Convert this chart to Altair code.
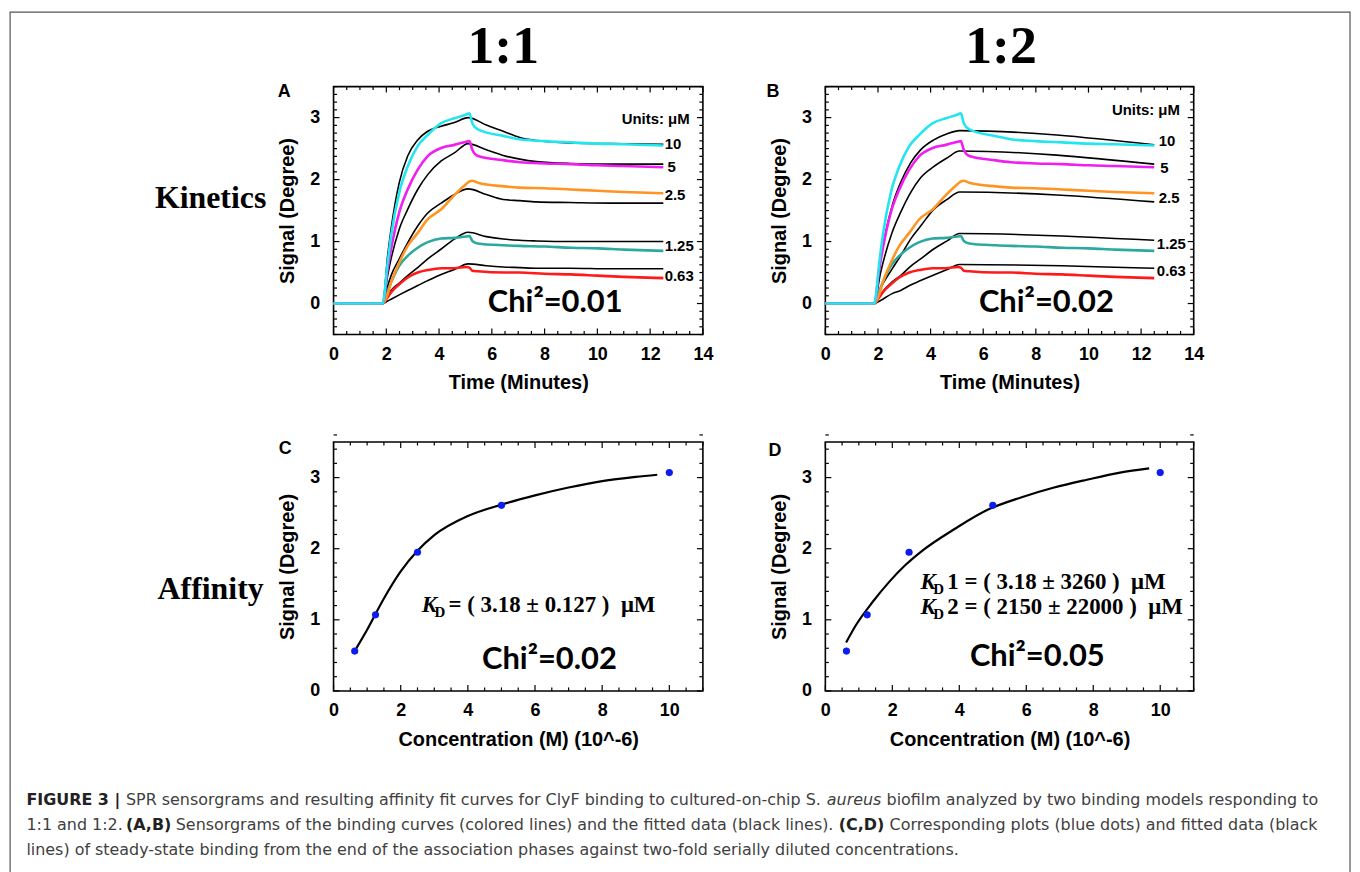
import altair as alt
import pandas as pd

SANS = "Liberation Sans"
SERIF = "Liberation Serif"
CHI_FONT = "Lato"
CAP_FONT = "DejaVu Sans"

# ---------------- data: sensorgrams (panels A and B) ----------------
SERIES = ["10", "5", "2.5", "1.25", "0.63"]

T_EXP = [0.0, 1.0, 1.86, 2.05, 2.18, 2.49, 2.81, 3.19, 3.57, 4.08, 4.58, 5.03, 5.15, 5.26, 5.47, 6.48, 7.05, 8.0, 9.0, 10.0, 11.0, 12.5]
EXP_10 = [0, 0, 0, 0.66, 1.09, 1.79, 2.21, 2.54, 2.72, 2.91, 2.99, 3.05, 3.07, 2.91, 2.81, 2.70, 2.65, 2.62, 2.60, 2.58, 2.57, 2.55]
EXP_5 = [0, 0, 0, 0.56, 0.88, 1.47, 1.84, 2.16, 2.38, 2.51, 2.56, 2.61, 2.62, 2.48, 2.38, 2.31, 2.28, 2.26, 2.25, 2.23, 2.22, 2.20]
EXP_2_5 = [0, 0, 0, 0.15, 0.34, 0.66, 0.93, 1.14, 1.36, 1.52, 1.75, 1.93, 1.97, 1.98, 1.95, 1.89, 1.87, 1.86, 1.84, 1.82, 1.80, 1.78]
EXP_1_25 = [0, 0, 0, 0.20, 0.34, 0.61, 0.77, 0.90, 0.99, 1.05, 1.06, 1.08, 1.09, 1.01, 0.97, 0.94, 0.93, 0.92, 0.90, 0.89, 0.87, 0.85]
EXP_0_63 = [0, 0, 0, 0.10, 0.18, 0.31, 0.42, 0.50, 0.54, 0.57, 0.57, 0.59, 0.58, 0.53, 0.52, 0.50, 0.50, 0.48, 0.47, 0.45, 0.43, 0.41]

T_FIT_A = [0.0, 1.86, 2.05, 2.18, 2.49, 2.81, 3.19, 3.57, 4.08, 4.58, 5.10, 5.79, 6.43, 7.06, 7.69, 8.95, 10.5, 12.5]
FIT_A_10 = [0, 0, 0.77, 1.20, 1.95, 2.38, 2.64, 2.78, 2.86, 2.92, 3.00, 2.88, 2.78, 2.68, 2.63, 2.59, 2.58, 2.57]
FIT_A_5 = [0, 0, 0.45, 0.72, 1.20, 1.52, 1.84, 2.08, 2.30, 2.43, 2.58, 2.48, 2.39, 2.33, 2.29, 2.26, 2.25, 2.25]
FIT_A_2_5 = [0, 0, 0.28, 0.45, 0.72, 0.98, 1.25, 1.46, 1.62, 1.76, 1.85, 1.76, 1.68, 1.66, 1.64, 1.63, 1.62, 1.62]
FIT_A_1_25 = [0, 0, 0.13, 0.21, 0.33, 0.45, 0.58, 0.72, 0.88, 1.04, 1.15, 1.08, 1.04, 1.02, 1.01, 1.00, 1.00, 1.00]
FIT_A_0_63 = [0, 0, 0.04, 0.07, 0.14, 0.21, 0.29, 0.37, 0.47, 0.55, 0.64, 0.61, 0.59, 0.58, 0.57, 0.57, 0.56, 0.56]

T_FIT_B = [0.0, 1.85, 2.10, 2.54, 2.86, 3.24, 3.62, 4.12, 4.63, 5.10, 12.5]
FIT_B_10 = [0, 0, 0.72, 1.58, 1.95, 2.27, 2.48, 2.64, 2.74, 2.79, 2.56]
FIT_B_5 = [0, 0, 0.50, 1.15, 1.47, 1.79, 2.03, 2.21, 2.35, 2.46, 2.25]
FIT_B_2_5 = [0, 0, 0.25, 0.56, 0.77, 1.04, 1.25, 1.52, 1.68, 1.80, 1.64]
FIT_B_1_25 = [0, 0, 0.15, 0.35, 0.45, 0.60, 0.72, 0.88, 1.01, 1.13, 1.02]
FIT_B_0_63 = [0, 0, 0.05, 0.16, 0.21, 0.30, 0.37, 0.46, 0.55, 0.63, 0.57]

COLORS_A = ["#22e6ef", "#f01ef0", "#ff9422", "#2ba89f", "#ff1a1a"]
COLORS_B = ["#22e6ef", "#f01ef0", "#ff9422", "#2ba89f", "#f0197c"]

LAB_TEXT = ["Units: \u03bcM", "10", "5", "2.5", "1.25", "0.63"]
LAB_A_X = [10.92, 12.55, 12.66, 12.55, 12.55, 12.55]
LAB_A_Y = [2.98, 2.57, 2.21, 1.75, 0.93, 0.44]
LAB_B_X = [10.89, 12.67, 12.73, 12.67, 12.60, 12.60]
LAB_B_Y = [3.12, 2.63, 2.19, 1.71, 0.96, 0.52]

# ---------------- data: affinity (panels C and D) ----------------
CONC = [0.63, 1.25, 2.5, 5.0, 10.0]
SIGNAL = [0.56, 1.07, 1.95, 2.61, 3.07]
FIT_C_X = [0.68, 1.0, 1.5, 2.0, 2.5, 3.0, 4.0, 5.0, 6.0, 7.0, 8.0, 9.0, 9.64]
FIT_C_Y = [0.60, 0.86, 1.30, 1.68, 1.97, 2.19, 2.46, 2.62, 2.75, 2.86, 2.95, 3.01, 3.04]
FIT_D_X = [0.62, 0.92, 1.41, 1.90, 2.39, 2.89, 3.87, 4.86, 5.84, 6.83, 7.81, 8.80, 9.67]
FIT_D_Y = [0.68, 0.93, 1.25, 1.53, 1.77, 1.97, 2.28, 2.55, 2.72, 2.86, 2.97, 3.07, 3.13]

# ---------------- layout (page pixels) ----------------
W1, W2 = 371, 370
HA, HC = 249, 250
SP_COL, SP_ROW = 123, 108
OA = (333.5, 83.5)
OB = (OA[0] + W1 + SP_COL, OA[1])
OC = (OA[0], OA[1] + HA + SP_ROW)
OD = (OB[0], OC[1])


def long_df(t, series_vals, names):
    rows = []
    for name, vals in zip(names, series_vals):
        for x, y in zip(t, vals):
            rows.append({"x": x, "y": y, "s": name})
    return pd.DataFrame(rows)


def ax(vals, title, lpad, tpad):
    return alt.Axis(values=vals, format="d", ticks=False, domain=False, grid=False,
                    labelFont=SANS, labelFontSize=18, labelFontWeight="bold", labelColor="black",
                    labelPadding=lpad, labelFlush=False, labelOverlap=False,
                    title=title, titleFont=SANS, titleFontSize=20, titleFontWeight="bold",
                    titleColor="black", titlePadding=tpad)


def tick_layers(X, Y, W, H, xmaj, xmin, ymaj, ymin):
    out = []
    for vals, L in ((xmaj, 6), (xmin, 3.5)):
        base = alt.Chart(pd.DataFrame({"x": vals})).mark_rule(color="black", strokeWidth=1.2)
        out.append(base.encode(x=X, y=alt.value(H), y2=alt.value(H - L)))
        out.append(base.encode(x=X, y=alt.value(0), y2=alt.value(L)))
    for vals, L in ((ymaj, 6), (ymin, 3.5)):
        base = alt.Chart(pd.DataFrame({"y": vals})).mark_rule(color="black", strokeWidth=1.2)
        out.append(base.encode(y=Y, x=alt.value(0), x2=alt.value(L)))
        out.append(base.encode(y=Y, x=alt.value(W), x2=alt.value(W - L)))
    return out


def ptext(txt, px, py, origin, size, font=SANS, weight="bold", style="normal",
          align="center", baseline="middle", color="black"):
    return alt.Chart(pd.DataFrame({"t": [txt]})).mark_text(
        font=font, fontSize=size, fontWeight=weight, fontStyle=style,
        align=align, baseline=baseline, color=color
    ).encode(text="t:N", x=alt.value(px - origin[0]), y=alt.value(py - origin[1]))


def steps(a, b, s):
    n = int(round((b - a) / s))
    return [round(a + i * s, 4) for i in range(n + 1)]


def kinetics_panel(W, fit_t, fit_vals, colors, lab_x, lab_y, chi, extra):
    X = alt.X("x:Q", scale=alt.Scale(domain=[0, 14], nice=False, zero=False),
              axis=ax(list(range(0, 15, 2)), "Time (Minutes)", 11, 9))
    Y = alt.Y("y:Q", scale=alt.Scale(domain=[-0.5, 3.5], nice=False, zero=False),
              axis=ax([0, 1, 2, 3], "Signal (Degree)", 14, 12))
    xmaj = list(range(0, 15, 2))
    xmin = [v for v in steps(0, 14, 0.5) if v not in xmaj]
    ymaj = [0, 1, 2, 3]
    ymin = [v for v in steps(-0.5, 3.5, 0.125) if v not in ymaj]
    layers = list(extra)
    layers += tick_layers(X, Y, W, HA, xmaj, xmin, ymaj, ymin)
    fits = alt.Chart(long_df(fit_t, fit_vals, SERIES)).mark_line(
        color="black", strokeWidth=1.6, interpolate="monotone").encode(x=X, y=Y, detail="s:N")
    exp_vals = [EXP_10, EXP_5, EXP_2_5, EXP_1_25, EXP_0_63]
    exp = alt.Chart(long_df(T_EXP, exp_vals[::-1], SERIES[::-1])).mark_line(
        strokeWidth=2.6, interpolate="monotone").encode(
        x=X, y=Y, color=alt.Color("s:N", scale=alt.Scale(domain=SERIES, range=colors), legend=None))
    labs = alt.Chart(pd.DataFrame({"x": lab_x, "y": lab_y, "t": LAB_TEXT})).mark_text(
        align="left", baseline="middle", font=SANS, fontWeight="bold", fontSize=15, color="black"
    ).encode(x=X, y=Y, text="t:N")
    chi_t = alt.Chart(pd.DataFrame({"x": [8.4], "y": [0.0], "t": [chi]})).mark_text(
        align="center", baseline="middle", font=CHI_FONT, fontWeight="bold", fontSize=31, color="black"
    ).encode(x=X, y=Y, text="t:N")
    layers += [fits, exp, labs, chi_t]
    return alt.layer(*layers).properties(width=W, height=HA)


def affinity_panel(W, fx, fy, chi, chi_xy, extra):
    X = alt.X("x:Q", scale=alt.Scale(domain=[0, 11], nice=False, zero=False),
              axis=ax(list(range(0, 11, 2)), "Concentration (M) (10^-6)", 11, 10))
    Y = alt.Y("y:Q", scale=alt.Scale(domain=[0, 3.5], nice=False, zero=False),
              axis=ax([0, 1, 2, 3], "Signal (Degree)", 14, 12))
    xmaj = list(range(0, 11, 2))
    xmin = [v for v in steps(0, 11, 0.5) if v not in xmaj]
    ymaj = [0, 1, 2, 3]
    ymin = [v for v in steps(0, 3.5, 0.2) if v not in ymaj]
    layers = list(extra)
    layers += tick_layers(X, Y, W, HC, xmaj, xmin, ymaj, ymin)
    fit = alt.Chart(pd.DataFrame({"x": fx, "y": fy})).mark_line(
        color="black", strokeWidth=2.2, interpolate="monotone").encode(x=X, y=Y)
    pts = alt.Chart(pd.DataFrame({"x": CONC, "y": SIGNAL})).mark_circle(
        size=52, color="#0c1df0", opacity=1).encode(x=X, y=Y)
    chi_t = alt.Chart(pd.DataFrame({"x": [chi_xy[0]], "y": [chi_xy[1]], "t": [chi]})).mark_text(
        align="center", baseline="middle", font=CHI_FONT, fontWeight="bold", fontSize=31, color="black"
    ).encode(x=X, y=Y, text="t:N")
    layers += [fit, pts, chi_t]
    return alt.layer(*layers).properties(width=W, height=HC)


# ---------------- decorations ----------------
border = alt.Chart(pd.DataFrame({"a": [0]})).mark_rect(
    fill="white", fillOpacity=0, stroke="#555555", strokeWidth=1.2
).encode(x=alt.value(8.6 - OA[0]), x2=alt.value(1354.5 - OA[0]),
         y=alt.value(8.6 - OA[1]), y2=alt.value(890 - OA[1]))

deco_A = [
    border,
    ptext("1:1", 504, 44, OA, 54, font=SERIF),
    ptext("Kinetics", 210, 195, OA, 32, font=SERIF),
    ptext("A", 284, 89, OA, 18),
]
deco_B = [
    ptext("1:2", 1004, 44, OB, 54, font=SERIF),
    ptext("B", 775, 89, OB, 18),
]

NBSP = "\u00a0"
PM = "\u00b1"
MU = "\u03bc"
deco_C = [
    ptext("Affinity", 210, 588, OC, 32, font=SERIF),
    ptext("C", 285, 448, OC, 18),
    ptext("K", 422, 611, OC, 23, font=SERIF, style="italic", align="left", baseline="alphabetic"),
    ptext("D", 435, 616, OC, 15, font=SERIF, align="left", baseline="alphabetic"),
    ptext("= ( 3.18 " + PM + " 0.127 )" + NBSP + NBSP + MU + "M", 449, 611, OC, 23, font=SERIF,
          align="left", baseline="alphabetic"),
]
# caption
CAP_C = "#404040"
CAP_S = 16
cap = [
    ("FIGURE 3 |", 25, 800, "bold", "normal"),
    ("SPR sensorgrams and resulting affinity fit curves for ClyF binding to cultured-on-chip S.", 125, 800, "normal", "normal"),
    ("aureus", 829, 800, "normal", "italic"),
    ("biofilm analyzed by two binding models responding to", 889, 800, "normal", "normal"),
    ("1:1 and 1:2.", 25, 825, "normal", "normal"),
    ("(A,B)", 125, 825, "bold", "normal"),
    ("Sensorgrams of the binding curves (colored lines) and the fitted data (black lines).", 175, 825, "normal", "normal"),
    ("(C,D)", 841, 825, "bold", "normal"),
    ("Corresponding plots (blue dots) and fitted data (black", 892, 825, "normal", "normal"),
    ("lines) of steady-state binding from the end of the association phases against two-fold serially diluted concentrations.", 25, 850, "normal", "normal"),
]
for txt, px, py, w, st in cap:
    deco_C.append(ptext(txt, px, py, OC, CAP_S, font=CAP_FONT, weight=w, style=st,
                        align="left", color=("#222222" if w == "bold" else CAP_C)))

deco_D = [
    ptext("D", 777, 450, OD, 18),
    ptext("K", 923, 588, OD, 23, font=SERIF, style="italic", align="left", baseline="alphabetic"),
    ptext("D", 936, 593, OD, 15, font=SERIF, align="left", baseline="alphabetic"),
    ptext("1 = ( 3.18 " + PM + " 3260 )" + NBSP + NBSP + MU + "M", 950, 588, OD, 23, font=SERIF,
          align="left", baseline="alphabetic"),
    ptext("K", 923, 613, OD, 23, font=SERIF, style="italic", align="left", baseline="alphabetic"),
    ptext("D", 936, 618, OD, 15, font=SERIF, align="left", baseline="alphabetic"),
    ptext("2 = ( 2150 " + PM + " 22000 )" + NBSP + NBSP + MU + "M", 950, 613, OD, 23, font=SERIF,
          align="left", baseline="alphabetic"),
]

panel_A = kinetics_panel(W1, T_FIT_A, [FIT_A_10, FIT_A_5, FIT_A_2_5, FIT_A_1_25, FIT_A_0_63],
                         COLORS_A, LAB_A_X, LAB_A_Y, "Chi\u00b2=0.01", deco_A)
panel_B = kinetics_panel(W2, T_FIT_B, [FIT_B_10, FIT_B_5, FIT_B_2_5, FIT_B_1_25, FIT_B_0_63],
                         COLORS_B, LAB_B_X, LAB_B_Y, "Chi\u00b2=0.02", deco_B)
panel_C = affinity_panel(W1, FIT_C_X, FIT_C_Y, "Chi\u00b2=0.02", (6.43, 0.44), deco_C)
panel_D = affinity_panel(W2, FIT_D_X, FIT_D_Y, "Chi\u00b2=0.05", (6.33, 0.48), deco_D)

chart = alt.concat(
    panel_A, panel_B, panel_C, panel_D, columns=2,
    spacing={"row": SP_ROW, "column": SP_COL}, bounds="flush", padding=0
).configure_view(stroke="black", strokeWidth=1.6)

chart.save("out.html", embed_options={"renderer": "svg", "actions": False})
